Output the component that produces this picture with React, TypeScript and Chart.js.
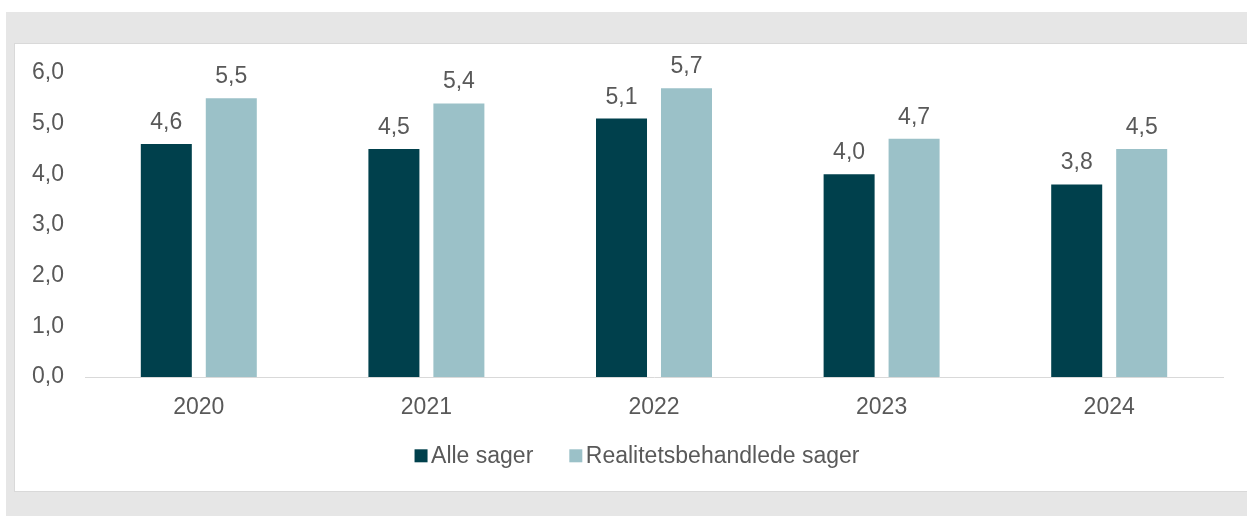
import React, { useEffect, useRef } from "react";
import { Chart, registerables } from "chart.js";

Chart.register(...registerables);

const categories = ["2020", "2021", "2022", "2023", "2024"];
const seriesNames = ["Alle sager", "Realitetsbehandlede sager"];
const alleSager = [4.6, 4.5, 5.1, 4.0, 3.8];
const realitetsbehandlede = [5.5, 5.4, 5.7, 4.7, 4.5];
const yTicks = [0, 1, 2, 3, 4, 5, 6];
const colors = ["#00404C", "#9BC1C8"];

const FONT = "'Liberation Sans', Arial, sans-serif";
const TEXT = "#595959";
const fmt = (v: number) => v.toFixed(1).replace(".", ",");

const valueLabels = {
  id: "valueLabels",
  afterDatasetsDraw(chart: any) {
    const ctx = chart.ctx;
    ctx.save();
    ctx.font = `23px ${FONT}`;
    ctx.fillStyle = TEXT;
    ctx.textAlign = "center";
    ctx.textBaseline = "alphabetic";
    chart.data.datasets.forEach((ds: any, di: number) => {
      const meta = chart.getDatasetMeta(di);
      meta.data.forEach((bar: any, i: number) => {
        ctx.fillText(fmt(ds.data[i]), bar.x, bar.y - 15);
      });
    });
    ctx.restore();
  },
};

const customLegend = {
  id: "customLegend",
  afterDraw(chart: any) {
    const ctx = chart.ctx;
    ctx.save();
    ctx.font = `23px ${FONT}`;
    const box = 13;
    const gapText = 3.5;
    const gapItem = 36;
    const items = chart.data.datasets.map((ds: any) => ({
      text: ds.label,
      color: ds.backgroundColor,
      w: ctx.measureText(ds.label).width,
    }));
    const total =
      items.reduce((s: number, it: any) => s + box + gapText + it.w, 0) +
      gapItem * (items.length - 1);
    let x = 622 - total / 2;
    const baseline = 419.3;
    items.forEach((it: any) => {
      ctx.fillStyle = it.color;
      ctx.fillRect(x, baseline - 14, box, box);
      x += box + gapText;
      ctx.fillStyle = TEXT;
      ctx.textAlign = "left";
      ctx.textBaseline = "alphabetic";
      ctx.fillText(it.text, x, baseline);
      x += it.w + gapItem;
    });
    ctx.restore();
  },
};

export default function App() {
  const ref = useRef<HTMLCanvasElement>(null);
  useEffect(() => {
    if (!ref.current) return;
    const chart = new Chart(ref.current, {
      type: "bar",
      data: {
        labels: categories,
        datasets: [
          {
            label: seriesNames[0],
            data: alleSager,
            backgroundColor: colors[0],
            categoryPercentage: 0.571,
            barPercentage: 0.785,
          },
          {
            label: seriesNames[1],
            data: realitetsbehandlede,
            backgroundColor: colors[1],
            categoryPercentage: 0.571,
            barPercentage: 0.785,
          },
        ],
      },
      options: {
        animation: false,
        responsive: false,
        maintainAspectRatio: false,
        layout: { padding: { left: 0, right: 24, top: 29, bottom: 14 } },
        plugins: {
          legend: { display: false },
          tooltip: { enabled: false },
        },
        scales: {
          x: {
            grid: { display: false, drawTicks: false },
            border: { display: true, color: "#d9d9d9", width: 1 },
            ticks: {
              color: TEXT,
              font: { family: FONT, size: 23 },
              padding: 17,
            },
            afterFit: (s: any) => {
              s.height = 100;
            },
          },
          y: {
            min: 0,
            max: 6,
            afterBuildTicks: (s: any) => {
              s.ticks = yTicks.map((v) => ({ value: v }));
            },
            grid: { display: false, drawTicks: false },
            border: { display: false },
            ticks: {
              color: TEXT,
              font: { family: FONT, size: 23 },
              padding: 21,
              callback: (v: any) => fmt(Number(v)),
            },
            afterFit: (s: any) => {
              s.width = 70;
              s.paddingTop = 0;
              s.paddingBottom = 0;
            },
          },
        },
      },
      plugins: [valueLabels, customLegend],
    });
    return () => chart.destroy();
  }, []);

  return (
    <div
      style={{
        position: "fixed",
        left: 0,
        top: 0,
        width: 1247,
        height: 516,
        background: "#ffffff",
        overflow: "hidden",
      }}
    >
      <div
        style={{
          position: "absolute",
          left: 6,
          top: 12,
          right: 0,
          bottom: 0,
          background: "#e6e6e6",
        }}
      />
      <div
        style={{
          position: "absolute",
          left: 14,
          top: 43,
          width: 1250,
          height: 447,
          background: "#ffffff",
          border: "1px solid #d9d9d9",
        }}
      >
        <canvas
          ref={ref}
          width={1232}
          height={447}
          style={{ display: "block", width: 1232, height: 447 }}
        />
      </div>
    </div>
  );
}
